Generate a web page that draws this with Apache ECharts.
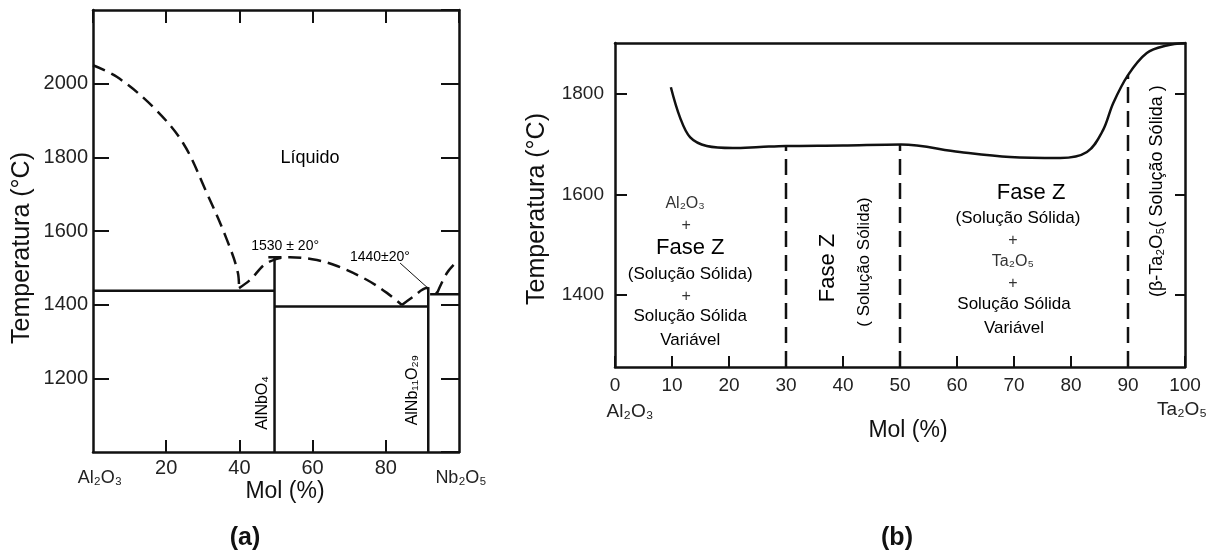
<!DOCTYPE html>
<html>
<head>
<meta charset="utf-8">
<style>
html, body { margin: 0; padding: 0; background: #fff; }
#chart { width: 1227px; height: 553px; }
</style>
<script src="https://cdn.jsdelivr.net/npm/echarts@6/dist/echarts.min.js"></script>
</head>
<body>
<div id="chart"></div>
<script>
// ---- (a) Al2O3 - Nb2O5 ----
var yTicksA = [1000, 2200];          // temperature range of panel (a)
var liquidusA = [                    // dashed liquidus, one list per branch
    [[0, 2050], [6.6, 2018], [16.4, 1937], [24.6, 1839], [31.1, 1703], [36.6, 1576], [39.6, 1486], [39.9, 1445]],
    [[39.9, 1445], [42.9, 1467], [47.5, 1513], [53.8, 1529], [61.2, 1521], [66.7, 1505], [74.9, 1467], [80.3, 1432], [84.4, 1399]],
    [[84.4, 1399], [87.4, 1421], [91.3, 1445], [94, 1431]],
    [[94, 1431], [96.7, 1486], [99.8, 1521]]
];
var solidA = [                       // solidus / compound lines
    [[0, 1438], [49.6, 1438]],
    [[49.6, 1000], [49.6, 1529]],
    [[47.9, 1529], [51.5, 1529]],
    [[49.6, 1395], [91.6, 1395]],
    [[91.6, 1000], [91.6, 1444]],
    [[92.1, 1428], [100, 1428]]
];
var leaderA = [[83.9, 1513], [91.4, 1446]];
var labelsA = ['Líquido', '1530 ± 20°', '1440±20°', 'AlNbO₄', 'AlNb₁₁O₂₉'];
var labelPosA = [[59.3, 1798], [52.5, 1560], [78.4, 1529], [46.4, 1133], [87.4, 1168]];

// ---- (b) Al2O3 - Ta2O5 ----
var yRangeB = [1257, 1902];
var yTicksB = [1400, 1600, 1800];
var curveB = [[9.8, 1814], [11.4, 1754], [13.2, 1714], [16.1, 1697], [20.7, 1693], [25.4, 1695], [30, 1697],
    [40, 1698], [50.2, 1700], [60.5, 1685], [69.3, 1675], [78.1, 1673], [82.8, 1685], [85.6, 1728],
    [87.4, 1782], [90, 1838], [93.3, 1882], [96.8, 1897], [100, 1902]];
var dashedB = [
    [[30, 1257], [30, 1697]],
    [[50, 1257], [50, 1700]],
    [[90, 1257], [90, 1838]]
];
var labelsB = ['Al₂O₃', '+', 'Fase Z', '(Solução Sólida)', '+', 'Solução Sólida', 'Variável',
    'Fase Z', '( Solução Sólida)',
    'Fase Z', '(Solução Sólida)', '+', 'Ta₂O₅', '+', 'Solução Sólida', 'Variável',
    '(β-Ta₂O₅( Solução Sólida )'];
var labelPosB = [[12.3, 1583], [12.5, 1539], [13.2, 1494], [13.2, 1442], [12.5, 1398], [13.2, 1358], [13.2, 1310],
    [37.4, 1454], [43.7, 1466],
    [73, 1603], [70.7, 1553], [69.8, 1509], [69.8, 1466], [69.8, 1424], [70, 1382], [70, 1335],
    [95.1, 1607]];

var INK = '#111';
var FONT = '"Liberation Sans", Arial, sans-serif';

function frameAxis(extra) {
    var ax = {
        type: 'value',
        axisLine: { show: true, onZero: false, lineStyle: { color: INK, width: 2.5 } },
        axisTick: { show: true, inside: true, length: 14, lineStyle: { color: INK, width: 2 } },
        axisLabel: { show: false },
        splitLine: { show: false }
    };
    for (var k in extra) ax[k] = extra[k];
    return ax;
}

function lineSeries(pts, xi, yi, dash, width, smooth) {
    return {
        type: 'line', xAxisIndex: xi, yAxisIndex: yi, data: pts,
        showSymbol: false, symbol: 'none', smooth: smooth || false,
        silent: true, animation: false,
        lineStyle: { color: INK, width: width || 2.5, type: dash ? [13, 7] : 'solid' }
    };
}

function textStyleFor(txt, panel, i) {
    var s = { fontFamily: FONT, color: '#000', fontSize: 17 };
    if (panel === 'a') {
        if (i === 0) s.fontSize = 18;
        if (i === 1 || i === 2) { s.fontSize = 14; }
        if (i >= 3) { s.fontSize = 16; s.rotate = 90; }
    } else {
        if (txt === 'Fase Z') s.fontSize = 22;
        if (txt === 'Al₂O₃' || txt === 'Ta₂O₅' || txt === '+') { s.fontSize = 16; s.color = '#333'; }
        if (i === 7 || i === 8 || i === 16) s.rotate = 90;
        if (i === 16) s.fontSize = 18;
    }
    return s;
}

function labelSeries(texts, pos, xi, yi, panel) {
    return {
        type: 'scatter', xAxisIndex: xi, yAxisIndex: yi, symbolSize: 1, silent: true, animation: false,
        itemStyle: { color: 'rgba(0,0,0,0)' },
        labelLayout: { hideOverlap: false },
        data: texts.map(function (t, i) {
            var st = textStyleFor(t, panel, i);
            return {
                value: pos[i], name: t,
                label: {
                    show: true, position: 'inside', formatter: t, align: 'center', verticalAlign: 'middle',
                    fontFamily: st.fontFamily, fontSize: st.fontSize, color: st.color, rotate: st.rotate || 0,
                    textBorderWidth: 0, opacity: 1
                }
            };
        })
    };
}

var dom = document.getElementById('chart');
var myChart = echarts.init(dom, null, { renderer: 'canvas' });

var series = [];
liquidusA.forEach(function (p) { series.push(lineSeries(p, 0, 0, true, 2.5, 0.35)); });
solidA.forEach(function (p) { series.push(lineSeries(p, 0, 0, false, 2.5)); });
series.push(lineSeries(leaderA, 0, 0, false, 1));
series.push(labelSeries(labelsA, labelPosA, 0, 0, 'a'));
series.push(lineSeries(curveB, 2, 2, false, 2.5, 0.35));
dashedB.forEach(function (p) {
    var s = lineSeries(p, 2, 2, true, 2.5);
    s.lineStyle.type = [16, 8];
    series.push(s);
});
series.push(labelSeries(labelsB, labelPosB, 2, 2, 'b'));

function plain(v) { return String(v); }

option = {
    backgroundColor: '#fff',
    animation: false,
    grid: [
        { left: 93, top: 10, width: 366, height: 442, outerBoundsMode: 'none' },
        { left: 615, top: 43, width: 570, height: 324, outerBoundsMode: 'none' }
    ],
    xAxis: [
        frameAxis({ gridIndex: 0, position: 'bottom', min: 0, max: 100, interval: 20,
            axisTick: { show: true, inside: true, length: 12, lineStyle: { color: INK, width: 2 } },
            axisLabel: { show: true, margin: 6, showMinLabel: false, showMaxLabel: false, formatter: plain,
                fontFamily: FONT, fontSize: 20, color: '#222' } }),
        frameAxis({ gridIndex: 0, position: 'top', min: 0, max: 100, interval: 20,
            axisTick: { show: true, inside: true, length: 13, lineStyle: { color: INK, width: 2 } } }),
        frameAxis({ gridIndex: 1, position: 'bottom', min: 0, max: 100, interval: 10,
            axisTick: { show: true, inside: true, length: 11, lineStyle: { color: INK, width: 2 } },
            axisLabel: { show: true, margin: 9, formatter: plain, fontFamily: FONT, fontSize: 19, color: '#222' } }),
        frameAxis({ gridIndex: 1, position: 'top', min: 0, max: 100, axisTick: { show: false } })
    ],
    yAxis: [
        frameAxis({ gridIndex: 0, position: 'left', min: yTicksA[0], max: yTicksA[1], interval: 200,
            axisTick: { show: true, inside: true, length: 16, lineStyle: { color: INK, width: 2 } },
            axisLabel: { show: true, margin: 5, showMinLabel: false, showMaxLabel: false, formatter: plain,
                fontFamily: FONT, fontSize: 20, color: '#222' } }),
        frameAxis({ gridIndex: 0, position: 'right', min: yTicksA[0], max: yTicksA[1], interval: 200,
            axisTick: { show: true, inside: true, length: 18, lineStyle: { color: INK, width: 2 } } }),
        frameAxis({ gridIndex: 1, position: 'left', min: yRangeB[0], max: yRangeB[1],
            axisTick: { show: true, inside: true, length: 12, customValues: yTicksB, lineStyle: { color: INK, width: 2 } },
            axisLabel: { show: true, margin: 11, customValues: yTicksB, formatter: plain,
                fontFamily: FONT, fontSize: 19, color: '#222' } }),
        frameAxis({ gridIndex: 1, position: 'right', min: yRangeB[0], max: yRangeB[1],
            axisTick: { show: true, inside: true, length: 10, customValues: yTicksB, lineStyle: { color: INK, width: 2 } } })
    ],
    graphic: [
        { type: 'text', x: 22, y: 248, rotation: Math.PI / 2,
          style: { text: 'Temperatura (°C)', fontFamily: FONT, fontSize: 25, fill: '#111', align: 'center', verticalAlign: 'middle' } },
        { type: 'text', x: 537, y: 209, rotation: Math.PI / 2,
          style: { text: 'Temperatura (°C)', fontFamily: FONT, fontSize: 25, fill: '#111', align: 'center', verticalAlign: 'middle' } },
        { type: 'text', x: 285, y: 492,
          style: { text: 'Mol (%)', fontFamily: FONT, fontSize: 23, fill: '#111', align: 'center', verticalAlign: 'middle' } },
        { type: 'text', x: 908, y: 431,
          style: { text: 'Mol (%)', fontFamily: FONT, fontSize: 23, fill: '#111', align: 'center', verticalAlign: 'middle' } },
        { type: 'text', x: 100, y: 478,
          style: { text: 'Al₂O₃', fontFamily: FONT, fontSize: 18, fill: '#222', align: 'center', verticalAlign: 'middle' } },
        { type: 'text', x: 461, y: 478,
          style: { text: 'Nb₂O₅', fontFamily: FONT, fontSize: 18, fill: '#222', align: 'center', verticalAlign: 'middle' } },
        { type: 'text', x: 630, y: 412,
          style: { text: 'Al₂O₃', fontFamily: FONT, fontSize: 19, fill: '#222', align: 'center', verticalAlign: 'middle' } },
        { type: 'text', x: 1182, y: 410,
          style: { text: 'Ta₂O₅', fontFamily: FONT, fontSize: 19, fill: '#222', align: 'center', verticalAlign: 'middle' } },
        { type: 'text', x: 245, y: 538,
          style: { text: '(a)', fontFamily: FONT, fontSize: 25, fontWeight: 'bold', fill: '#111', align: 'center', verticalAlign: 'middle' } },
        { type: 'text', x: 897, y: 538,
          style: { text: '(b)', fontFamily: FONT, fontSize: 25, fontWeight: 'bold', fill: '#111', align: 'center', verticalAlign: 'middle' } }
    ],
    series: series
};

if (option && typeof option === 'object') {
    myChart.setOption(option, true);
}
</script>
</body>
</html>
